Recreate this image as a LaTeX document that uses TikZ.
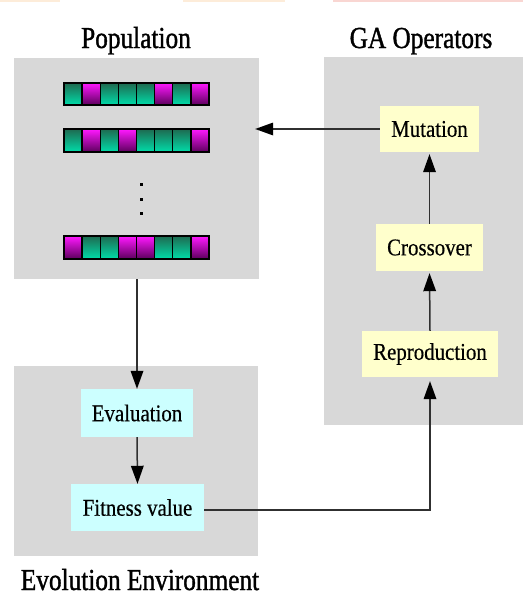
\documentclass[tikz,border=0pt]{standalone}
\usepackage{fontspec}
\setmainfont{Liberation Serif}
\newfontfamily\titlefont[FakeStretch=0.83,FakeBold=1.2]{Liberation Serif}
\newfontfamily\boxfont[FakeStretch=0.87,FakeBold=0.4]{Liberation Serif}
\usetikzlibrary{arrows.meta}

\definecolor{panelgray}{HTML}{D8D8D8}
\definecolor{opyellow}{HTML}{FFFFCC}
\definecolor{envcyan}{HTML}{CCFFFF}
\definecolor{linegray}{HTML}{303030}
\definecolor{tealtop}{HTML}{1E6A50}
\definecolor{tealbot}{HTML}{00DDAA}
\definecolor{magtop}{HTML}{FF18FF}
\definecolor{magbot}{HTML}{5C005C}
\definecolor{peach}{HTML}{FDECD9}
\definecolor{rose}{HTML}{F9D6D2}

\tikzset{
  panel/.style={fill=panelgray, draw=none, inner sep=0pt},
  opbox/.style={fill=opyellow, draw=none, inner sep=0pt, font=\boxfont\fontsize{24}{28}\selectfont},
  envbox/.style={fill=envcyan, draw=none, inner sep=0pt, font=\boxfont\fontsize{24}{28}\selectfont},
  title/.style={anchor=base, inner sep=0pt, font=\titlefont\fontsize{30.5}{35}\selectfont},
  flow/.style={draw=linegray, line width=1.5pt,
    -{Triangle[length=18pt,width=13pt,fill=black,line width=0pt]}},
  gene/.style={draw=black, line width=1.4pt},
  tealgene/.style={gene, top color=tealtop, bottom color=tealbot},
  maggene/.style={gene, top color=magtop, bottom color=magbot},
  dotmark/.style={fill=black, draw=none},
}

\begin{document}
\begin{tikzpicture}[x=1pt, y=-1pt]
  \useasboundingbox (0,0) rectangle (523,597);

  % coloured strips along the top edge
  \fill[peach] (0,0) rectangle (60,2);
  \fill[peach] (183,0) rectangle (285,2);
  \fill[rose] (333,0) rectangle (523,2);

  % panels
  \node[panel, minimum width=245pt, minimum height=221pt] (pop) at (136.5,168.5) {};
  \node[panel, minimum width=199pt, minimum height=368pt] (ops) at (423.5,241) {};
  \node[panel, minimum width=244pt, minimum height=190pt] (env) at (136,461) {};

  % panel titles
  \node[title] (poptitle) at (136,48) {Population};
  \node[title] (opstitle) at (421,48) {GA Operators};
  \node[title] (envtitle) at (140,590) {Evolution Environment};

  % chromosomes: t = teal gene, m = magenta gene
  \def\cellw{18.125}
  \def\tealmark{t}
  \foreach \row/\top/\bot/\genes in {1/83/105/{t,m,t,t,t,m,t,m},
                                     2/129/152/{t,m,t,m,t,t,t,m},
                                     3/236/259/{m,t,t,m,m,t,t,m}} {
    \foreach \g [count=\i from 0] in \genes {
      \ifx\g\tealmark
        \path[tealgene] ({64+\i*\cellw},\top) rectangle ({64+(\i+1)*\cellw},\bot);
      \else
        \path[maggene] ({64+\i*\cellw},\top) rectangle ({64+(\i+1)*\cellw},\bot);
      \fi
    }
  }

  % vertical ellipsis between chromosomes
  \foreach \yy in {184,199,213}
    \fill[dotmark] (139.5,\yy-1.5) rectangle (142.5,\yy+1.5);

  % operator boxes
  \node[opbox, minimum width=99pt, minimum height=46pt] (mut) at (429.5,129) {Mutation};
  \node[opbox, minimum width=107pt, minimum height=47pt] (cross) at (429.5,247.5) {Crossover};
  \node[opbox, minimum width=136pt, minimum height=46pt] (repro) at (430,354) {Reproduction};

  % evaluation boxes
  \node[envbox, minimum width=112pt, minimum height=48pt] (eval) at (137,413) {Evaluation};
  \node[envbox, minimum width=133pt, minimum height=47pt] (fit) at (137.5,507.5) {Fitness value};

  % connectors
  \draw[flow, shorten >=-4pt] (mut.west) -- (mut.west -| pop.east);
  \draw[flow] (pop.south -| eval.north) -- (eval.north);
  \draw[flow] (eval.south) -- (fit.north);
  \draw[flow, shorten >=2pt] (repro.north) -- (cross.south);
  \draw[flow, shorten >=2pt] (cross.north) -- (mut.south);
  \coordinate (turn) at (repro.south |- 0,510);
  \draw[flow, shorten >=4pt] (fit.east |- turn) -- (turn) -- (repro.south);
\end{tikzpicture}
\end{document}
